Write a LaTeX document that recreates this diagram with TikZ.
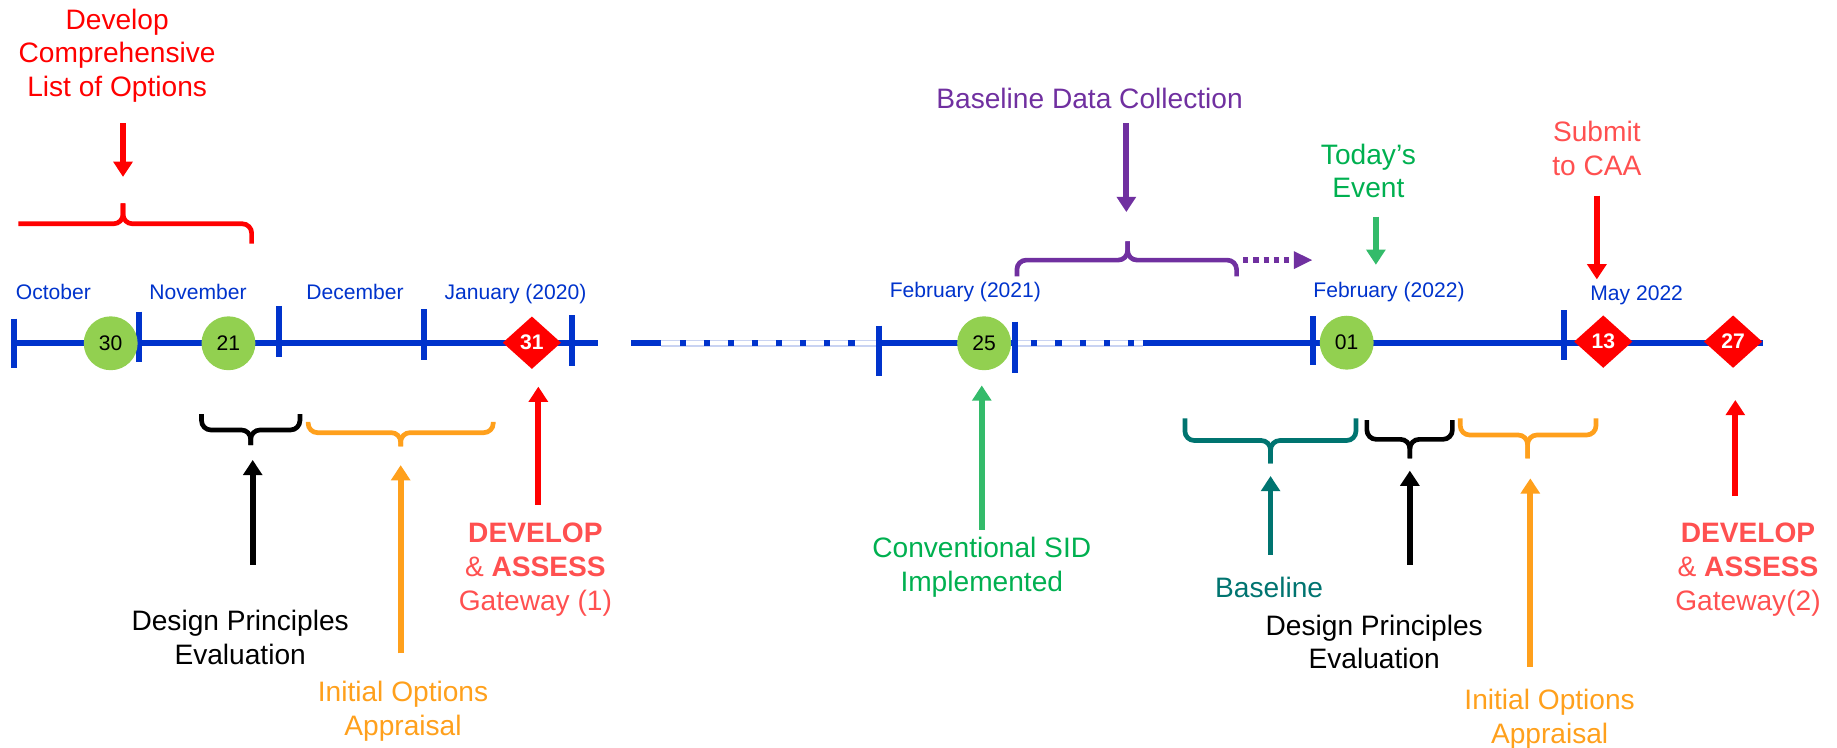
\documentclass[tikz,border=0pt]{standalone}
\usepackage{fontspec}
\setmainfont{Liberation Sans}
\usetikzlibrary{arrows.meta,shapes.geometric}
\definecolor{tlblue}{HTML}{0033CC}
\definecolor{tllight}{HTML}{C9D3F2}
\definecolor{cgreen}{HTML}{92D050}
\definecolor{dred}{HTML}{FF0000}
\definecolor{lred}{HTML}{FF5050}
\definecolor{purp}{HTML}{7030A0}
\definecolor{gtext}{HTML}{00B050}
\definecolor{garr}{HTML}{33BB6A}
\definecolor{tealc}{HTML}{007470}
\definecolor{orng}{HTML}{FFA01C}
\newcommand\lblfont{\fontsize{12}{14.4}\selectfont}
\newcommand\monthfont{\fontsize{9}{11}\selectfont}
\newcommand\numfont{\fontsize{9}{11}\selectfont}
% color, x1, x2, yend, ybar, xtip, ytip
\newcommand\mybrace[7]{%
  \draw[brc,#1] (#2,#4) -- (#2,#5) -- (#6,#5) -- (#6,#7);
  \draw[brc,#1] (#3,#4) -- (#3,#5) -- (#6,#5) -- (#6,#7);}
\begin{document}
\begin{tikzpicture}[x=0.5pt,y=-0.5pt,
  tl/.style={draw=tlblue,line width=2.6pt},
  dashbase/.style={draw=tllight,line width=0.6pt,double=white,double distance=1.6pt},
  tickmark/.style={draw=tlblue,line width=2.5pt},
  arr/.style={line width=2.5pt,-{Triangle[length=6.5pt,width=8pt]}},
  brc/.style={line width=2pt,rounded corners=4pt},
  circ/.style={circle,fill=cgreen,minimum size=23pt,inner sep=0pt,font=\numfont},
  dia/.style={diamond,fill=dred,minimum width=25pt,minimum height=22.5pt,inner sep=0pt,text=white,font=\numfont\bfseries},
  month/.style={text=tlblue,font=\monthfont,anchor=base},
  lbl/.style={font=\lblfont,align=center}]
\useasboundingbox (0,0) rectangle (1568,638);

% ---------- timeline ----------
\coordinate (L1a) at (12,293);  \coordinate (L1b) at (510,293);
\coordinate (L2a) at (539,293); \coordinate (L2b) at (564,293);
\coordinate (L2c) at (750,293); \coordinate (L2d) at (866,293);
\coordinate (L2e) at (976,293); \coordinate (L2f) at (1505,293);
\draw[tl] (L1a) -- (L1b);
\draw[tl] (L2a) -- (L2b);
\draw[dashbase] (L2b) -- (L2c);
\draw[tl] (L2c) -- (L2d);
\draw[dashbase] (L2d) -- (L2e);
\draw[tl] (L2e) -- (L2f);
\foreach \x in {582.6,603.2,623.8,644.4,665,685.6,706.2,726.8,882.9,903.5,924.1,944.7,965.3}
  \fill[tlblue] (\x-2.6,290.4) rectangle (\x+2.6,295.6);

% ticks
\draw[tickmark] (12,272) -- (12,314);
\draw[tickmark] (119,266) -- (119,309);
\draw[tickmark] (238,261) -- (238,305);
\draw[tickmark] (362,264) -- (362,307);
\draw[tickmark] (488,269) -- (488,312);
\draw[tickmark] (750,278) -- (750,321);
\draw[tickmark] (866.5,274.5) -- (866.5,318);
\draw[tickmark] (1120.4,270) -- (1120.4,311.5);
\draw[tickmark] (1335,265) -- (1335,307);

% events
\node[circ] (c30) at (94.5,293) {30};
\node[circ] (c21) at (195,293) {21};
\node[dia] (d31) at (454,292.5) {31};
\node[circ] (c25) at (840,293) {25};
\node[circ] (c01) at (1149.5,292.5) {01};
\node[dia] (d13) at (1368.5,291.6) {13};
\node[dia] (d27) at (1479.3,291.6) {27};

% months
\node[month] (mOct) at (45.6,255.4) {October};
\node[month] (mNov) at (169,255.4) {November};
\node[month] (mDec) at (303,255.4) {December};
\node[month] (mJan) at (440,255.4) {January (2020)};
\node[month] (mFeb1) at (824,254) {February (2021)};
\node[month] (mFeb2) at (1185.6,254) {February (2022)};
\node[month] (mMay) at (1397,256.8) {May 2022};

% ---------- top callouts ----------
\node[lbl,text=dred] (title) at (100,47.5) {Develop\\Comprehensive\\List of Options};
\coordinate (a1s) at (105,105); \coordinate (a1e) at (105,151);
\draw[arr,dred] (a1s) -- (a1e);
\draw[brc,dred] (15.6,191) -- (105,191) -- (105,173.5);
\draw[brc,dred] (214.8,208) -- (214.8,191) -- (105,191) -- (105,173.5);

\node[lbl,text=purp] (bdc) at (930,84) {Baseline Data Collection};
\coordinate (a2s) at (961.4,105); \coordinate (a2e) at (961.4,181);
\draw[arr,purp] (a2s) -- (a2e);
\mybrace{purp}{868}{1055.5}{236}{222}{962.5}{206}
\coordinate (a3s) at (1061,222); \coordinate (a3e) at (1120.4,222);
\draw[purp,line width=2.6pt,dash pattern=on 2.2pt off 2.2pt,-{Triangle[length=8pt,width=7pt]}] (a3s) -- (a3e);

\node[lbl,text=gtext] (today) at (1168,146) {Today’s\\Event};
\coordinate (a4s) at (1174.4,185); \coordinate (a4e) at (1174.4,226);
\draw[arr,garr] (a4s) -- (a4e);

\node[lbl,text=lred] (submit) at (1363,127) {Submit\\to CAA};
\coordinate (a5s) at (1363,167); \coordinate (a5e) at (1363,238.5);
\draw[arr,dred] (a5s) -- (a5e);

% ---------- bottom callouts (left) ----------
\mybrace{black}{172}{256}{353.4}{367}{214}{380}
\mybrace{orng}{263}{421}{360}{369.3}{342}{381}
\coordinate (a6s) at (215.7,482); \coordinate (a6e) at (215.7,392.6);
\draw[arr,black] (a6s) -- (a6e);
\coordinate (a7s) at (342,557.6); \coordinate (a7e) at (342,397);
\draw[arr,orng] (a7s) -- (a7e);
\coordinate (a8s) at (459.5,431); \coordinate (a8e) at (459.5,330);
\draw[arr,dred] (a8s) -- (a8e);
\node[lbl,text=black] (dpe1) at (205,544) {Design Principles\\Evaluation};
\node[lbl,text=orng] (ioa1) at (344,607) {Initial Options\\Appraisal};
\node[lbl,text=lred] (dev1) at (457,486) {\textbf{DEVELOP}\\\& \textbf{ASSESS}\\Gateway (1)};

% middle
\coordinate (a9s) at (838,452); \coordinate (a9e) at (838,329);
\draw[arr,garr] (a9s) -- (a9e);
\node[lbl,text=gtext] (csi) at (838,484) {Conventional SID\\Implemented};

% ---------- bottom callouts (right) ----------
\mybrace{tealc}{1011.4}{1157.4}{357}{376}{1084.5}{395.5}
\mybrace{black}{1166.7}{1239.7}{358.5}{375}{1203.4}{391.2}
\mybrace{orng}{1246.4}{1362.3}{357}{371.3}{1303.9}{391.2}
\coordinate (a10s) at (1084.5,473.7); \coordinate (a10e) at (1084.5,406.3);
\draw[arr,tealc] (a10s) -- (a10e);
\coordinate (a11s) at (1203.4,482.2); \coordinate (a11e) at (1203.4,401.7);
\draw[arr,black] (a11s) -- (a11e);
\coordinate (a12s) at (1306.2,569); \coordinate (a12e) at (1306.2,408.3);
\draw[arr,orng] (a12s) -- (a12e);
\coordinate (a13s) at (1481.2,423.4); \coordinate (a13e) at (1481.2,341.4);
\draw[arr,dred] (a13s) -- (a13e);
\node[lbl,text=tealc] (base) at (1083.3,501.6) {Baseline};
\node[lbl,text=black] (dpe2) at (1173,548) {Design Principles\\Evaluation};
\node[lbl,text=orng] (ioa2) at (1322.7,614) {Initial Options\\Appraisal};
\node[lbl,text=lred] (dev2) at (1492,486) {\textbf{DEVELOP}\\\& \textbf{ASSESS}\\Gateway(2)};
\end{tikzpicture}
\end{document}
